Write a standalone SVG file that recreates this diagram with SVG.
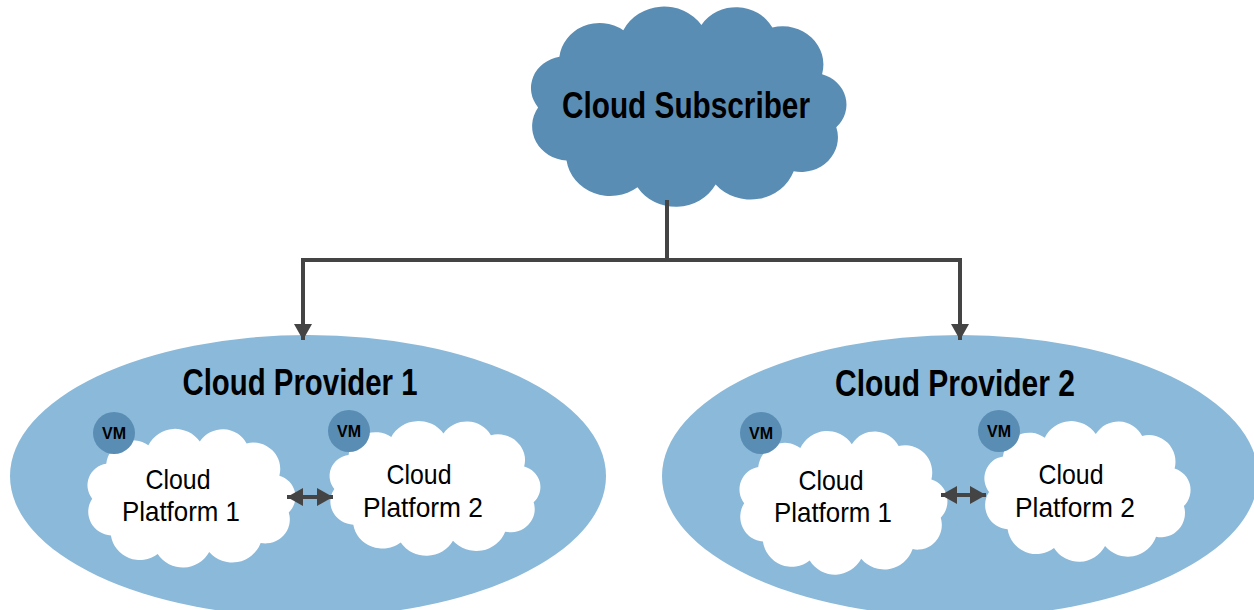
<svg xmlns="http://www.w3.org/2000/svg" width="1254" height="610" viewBox="0 0 1254 610">
<style>
.prov{fill:#8bb9d9}
.dark{fill:#5a8db4}
.white{fill:#ffffff}
.conn{fill:none;stroke:#444444;stroke-width:4}
.title{font-family:"Liberation Sans",Arial,sans-serif;font-weight:bold;font-size:36px;fill:#000;text-anchor:middle}
.lbl{font-family:"Liberation Sans",Arial,sans-serif;font-size:28px;fill:#000;text-anchor:middle}
.vm{font-family:"Liberation Sans",Arial,sans-serif;font-weight:bold;font-size:17px;fill:#000;text-anchor:middle}
</style>
<defs>
<path id="cloud" d="M5,80 A23.7,23.7 0 0 1 20,42 A28.5,28.5 0 0 1 65,22 A32,32 0 0 1 120,18 A29,29 0 0 1 170,20 A28.7,28.7 0 0 1 205,55 A23.9,23.9 0 0 1 215,95 A25.9,25.9 0 0 1 185,128 A32.4,32.4 0 0 1 130,138 A31.9,31.9 0 0 1 75,140 A31.2,31.2 0 0 1 25,120 A25.9,25.9 0 0 1 5,80 Z"/>
<marker id="arr" markerUnits="userSpaceOnUse" markerWidth="16" markerHeight="18" viewBox="0 0 16 18" refX="16" refY="9" orient="auto-start-reverse">
<path d="M0,0 L16,9 L0,18 Z" fill="#444444"/>
</marker>
</defs>

<g id="provider1">
<ellipse class="prov" cx="308" cy="476" rx="298" ry="141"/>
<text class="title" x="300" y="395" textLength="235" lengthAdjust="spacingAndGlyphs">Cloud Provider 1</text>
</g>
<g id="provider2">
<ellipse class="prov" cx="960" cy="476" rx="298" ry="141"/>
<text class="title" x="955" y="396" textLength="240" lengthAdjust="spacingAndGlyphs">Cloud Provider 2</text>
</g>

<g id="subscriber">
<use href="#cloud" class="dark" transform="translate(531,1) scale(1.42,1.33)"/>
<text class="title" x="686" y="118" textLength="248" lengthAdjust="spacingAndGlyphs">Cloud Subscriber</text>
</g>

<g id="p1-platform1">
<use href="#cloud" class="white" transform="translate(87.5,425) scale(0.936,0.921)"/>
<circle class="dark" cx="114" cy="433" r="21"/>
<text class="vm" x="114" y="439" textLength="24" lengthAdjust="spacingAndGlyphs">VM</text>
<text class="lbl" x="178" y="489" textLength="65" lengthAdjust="spacingAndGlyphs">Cloud</text>
<text class="lbl" x="181" y="521" textLength="118" lengthAdjust="spacingAndGlyphs">Platform 1</text>
</g>
<g id="p1-platform2">
<use href="#cloud" class="white" transform="translate(329.6,417.3) scale(0.949,0.895)"/>
<circle class="dark" cx="349" cy="431" r="21"/>
<text class="vm" x="349" y="437" textLength="24" lengthAdjust="spacingAndGlyphs">VM</text>
<text class="lbl" x="419" y="484" textLength="65" lengthAdjust="spacingAndGlyphs">Cloud</text>
<text class="lbl" x="423" y="517" textLength="120" lengthAdjust="spacingAndGlyphs">Platform 2</text>
</g>
<g id="p2-platform1">
<use href="#cloud" class="white" transform="translate(739.5,427) scale(0.936,0.954)"/>
<circle class="dark" cx="761" cy="433" r="21"/>
<text class="vm" x="761" y="439" textLength="24" lengthAdjust="spacingAndGlyphs">VM</text>
<text class="lbl" x="831" y="490" textLength="65" lengthAdjust="spacingAndGlyphs">Cloud</text>
<text class="lbl" x="833" y="522" textLength="118" lengthAdjust="spacingAndGlyphs">Platform 1</text>
</g>
<g id="p2-platform2">
<use href="#cloud" class="white" transform="translate(984.4,417.2) scale(0.928,0.934)"/>
<circle class="dark" cx="999" cy="431" r="21"/>
<text class="vm" x="999" y="437" textLength="24" lengthAdjust="spacingAndGlyphs">VM</text>
<text class="lbl" x="1071" y="484" textLength="65" lengthAdjust="spacingAndGlyphs">Cloud</text>
<text class="lbl" x="1075" y="517" textLength="120" lengthAdjust="spacingAndGlyphs">Platform 2</text>
</g>

<g id="connectors">
<path class="conn" d="M667,200 V260 H303 V340" marker-end="url(#arr)"/>
<path class="conn" d="M667,260 H960 V340" marker-end="url(#arr)"/>
<path class="conn" d="M287,497 H333" marker-start="url(#arr)" marker-end="url(#arr)"/>
<path class="conn" d="M941,495 H986" marker-start="url(#arr)" marker-end="url(#arr)"/>
</g>
</svg>
